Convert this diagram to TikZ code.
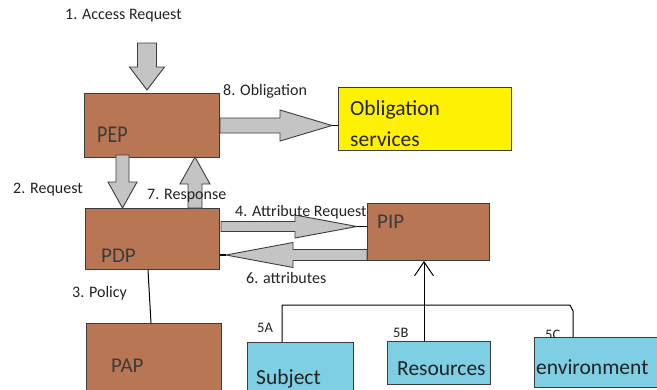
\documentclass[tikz,border=0pt]{standalone}
\usepackage{fontspec}
\setmainfont{Carlito}
\usetikzlibrary{calc,arrows.meta}

\definecolor{boxbrown}{RGB}{185,118,84}
\definecolor{oblyellow}{RGB}{255,242,0}
\definecolor{attrblue}{RGB}{126,206,228}
\definecolor{arrowgray}{RGB}{196,196,196}
\definecolor{edgegray}{RGB}{60,60,60}
\definecolor{inkgray}{RGB}{35,35,35}

% block arrow: tail, tip, shaft half width, head half width, head length
\newcommand\blockarrow[5]{%
  \coordinate (ba-base) at ($(#2)!#5!(#1)$);
  \draw[blockarr] ($(#1)!#3!90:(#2)$) -- ($(ba-base)!#3!90:(#2)$)
    -- ($(ba-base)!#4!90:(#2)$) -- (#2) -- ($(ba-base)!#4!-90:(#2)$)
    -- ($(ba-base)!#3!-90:(#2)$) -- ($(#1)!#3!-90:(#2)$) -- cycle;}

\tikzset{
  basebox/.style={draw=edgegray, line width=1pt, rectangle, inner sep=0pt, anchor=north west},
  brownbox/.style={basebox, fill=boxbrown},
  yellowbox/.style={basebox, fill=oblyellow},
  bluebox/.style={basebox, fill=attrblue},
  blockarr/.style={draw=edgegray, fill=arrowgray, line width=0.9pt, line join=miter},
  tipline/.style={draw=black, line width=1.2pt},
  treeline/.style={draw=black, line width=1pt},
  lbl/.style={inner sep=0pt, anchor=base west, text=inkgray, font=\fontsize{16}{19}\selectfont},
  smalllbl/.style={lbl, font=\fontsize{14.5}{17}\selectfont},
  acr/.style={inner sep=0pt, anchor=base west, text=edgegray, font=\fontsize{21}{25}\selectfont},
  boxtxt/.style={inner sep=0pt, anchor=base west, text=inkgray, font=\fontsize{21.5}{26}\selectfont},
}

\begin{document}
\begin{tikzpicture}[x=1pt,y=-1pt]
\path[use as bounding box] (0,0) rectangle (657,389);
\clip (0,0) rectangle (657,389);
\fill[white] (0,0) rectangle (657,389);

% components
\node[brownbox, minimum width=135pt, minimum height=64pt] (pep) at (84,93) {};
\node[brownbox, minimum width=134pt, minimum height=61pt] (pdp) at (85,208) {};
\node[brownbox, minimum width=135pt, minimum height=70pt] (pap) at (86,323) {};
\node[yellowbox, minimum width=173pt, minimum height=63pt] (obl) at (338,87) {};
\node[brownbox, minimum width=122pt, minimum height=57pt] (pip) at (367,203) {};

% attribute sources
\node[bluebox, minimum width=106pt, minimum height=52pt] (subj) at (247,342) {};
\node[bluebox, minimum width=103pt, minimum height=43pt] (res) at (387,341) {};
\node[bluebox, minimum width=130pt, minimum height=50pt] (env) at (534,337) {};

% texts inside the boxes
\node[acr] at ($(pep.north west)+(13,49)$) {\scalebox{0.95}[1.15]{PEP}};
\node[acr] at ($(pdp.north west)+(16,54)$) {PDP};
\node[acr] at ($(pap.north west)+(25,49)$) {PAP};
\node[acr] at ($(pip.north west)+(10,25)$) {PIP};
\node[boxtxt] at ($(obl.north west)+(12,28)$) {Obligation};
\node[boxtxt] at ($(obl.north west)+(12,59)$) {services};
\node[boxtxt] at ($(subj.north west)+(9,42)$) {Subject};
\node[boxtxt] at ($(res.north west)+(10,34)$) {Resources};
\node[boxtxt] at ($(env.north west)+(2,37)$) {environment};

% policy link
\draw[treeline] ($(pdp.south west)+(63,0)$) -- ($(pap.north west)+(65,0)$);

% attribute source tree
\coordinate (bus) at ($(res.north west)+(37,-36)$);
\draw[treeline] ($(res.north west)+(37,0)$) -- (bus);
\draw[treeline, -{Straight Barb[length=14pt,width=19pt]}] (bus) -- (bus |- pip.south);
\draw[treeline] ($(subj.north west)+(35,0)$) |- ($(env.north west)+(36,-32)$)
  -- ($(env.north west)+(39,-26)$) -- ($(env.north west)+(39,0)$);

% request / response flow
\coordinate (a1s) at (147,43);
\coordinate (a1t) at ($(pep.north west)+(63,-3)$);
\blockarrow{a1s}{a1t}{9.5pt}{17.5pt}{23pt}

\coordinate (a2s) at ($(pep.south west)+(38.5,-3)$);
\coordinate (a2t) at (a2s |- pdp.north);
\blockarrow{a2s}{a2t}{6.5pt}{14.5pt}{26pt}

\coordinate (a7s) at ($(pdp.north west)+(110,0)$);
\coordinate (a7t) at ($(a7s |- pep.south)+(0,-1)$);
\blockarrow{a7s}{a7t}{7pt}{15pt}{27pt}

\coordinate (a8s) at (pep.east);
\coordinate (a8t) at ($(obl.west |- pep.east)+(-6,0)$);
\blockarrow{a8s}{a8t}{7.5pt}{15.5pt}{52pt}
\draw[tipline] (a8t) -- (obl.west |- pep.east);

\coordinate (a4s) at ($(pdp.east)+(1,-12.5)$);
\coordinate (a4t) at ($(pip.west |- a4s)+(-10,0)$);
\blockarrow{a4s}{a4t}{5pt}{11.5pt}{62pt}
\draw[tipline] (a4t) -- (pip.west |- a4s);

\coordinate (a6s) at ($(pip.west)+(0,23)$);
\coordinate (a6t) at ($(pdp.east |- a6s)+(6,0)$);
\blockarrow{a6s}{a6t}{5.5pt}{12.5pt}{67pt}
\draw[tipline] (a6t) -- (pdp.east |- a6s);

% step labels
\node[lbl] at (65,19) {1. Access Request};
\node[lbl] at (223,95) {8. Obligation};
\node[lbl] at (13,193) {2. Request};
\node[lbl] at (147,199) {7. Response};
\node[lbl] at (235,216) {4. Attribute Request};
\node[lbl] at (246,283) {6. attributes};
\node[lbl] at (72,297) {3. Policy};
\node[smalllbl] at (257,332) {5A};
\node[smalllbl] at (393,337) {5B};
\begin{scope}
  \clip (0,0) rectangle (657,337);
  \node[smalllbl] at (545,339) {5C};
\end{scope}
\end{tikzpicture}
\end{document}
